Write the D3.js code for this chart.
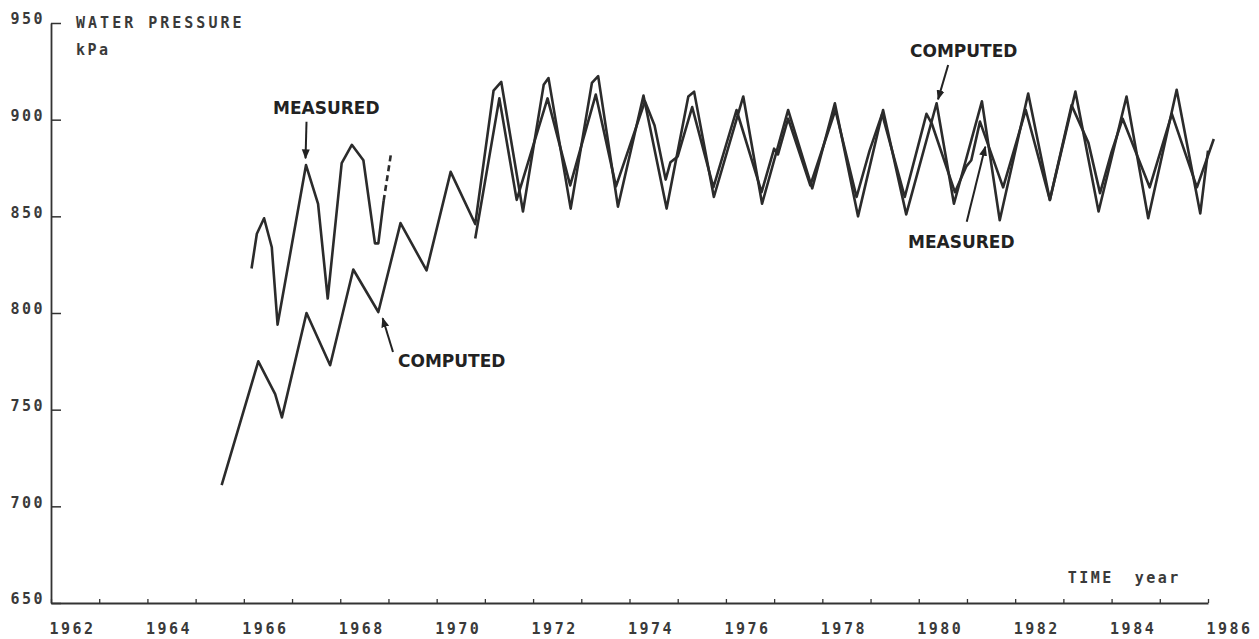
<!DOCTYPE html>
<html>
<head>
<meta charset="utf-8">
<script src="https://cdn.jsdelivr.net/npm/d3@7"></script>
<style>
  html, body { margin: 0; padding: 0; background: #fff; }
  svg { display: block; }
  .tick text, .lbl { font-family: "DejaVu Sans Mono", monospace; font-size: 15px; letter-spacing: 2.5px; fill: #3a3a3a; font-weight: bold; }
  .ann { font-family: "DejaVu Sans", sans-serif; font-weight: bold; font-size: 17px; fill: #222; }
</style>
</head>
<body>
<svg id="chart" width="1259" height="639"></svg>
<script>
// ---------------- data (year, kPa) ----------------
const computed = [
  [1965.54,711],[1966.30,775],[1966.65,758],[1966.79,746],[1967.30,800],[1967.79,773],
  [1968.27,822.5],[1968.79,800.5],[1969.25,846.5],[1969.79,822],[1970.29,873],[1970.80,846],
  [1971.18,915],[1971.34,919.5],[1971.79,852.5],
  [1972.22,918],[1972.32,921.5],[1972.78,854],
  [1973.22,919],[1973.35,922.5],[1973.76,855],
  [1974.29,912.5],[1974.77,854],
  [1975.22,912],[1975.34,914.5],[1975.75,860],
  [1976.36,912],[1976.75,856.5],
  [1977.29,905],[1977.79,864.5],
  [1978.26,908.5],[1978.74,850],
  [1979.26,905],[1979.74,851],
  [1980.37,908.5],[1980.73,856.5],
  [1981.31,909.5],[1981.68,848],
  [1982.27,913.5],[1982.72,858.5],
  [1983.25,914.5],[1983.73,852.5],
  [1984.31,912],[1984.76,849],
  [1985.35,915.5],[1985.84,851.5],[1986.00,884]
];
const measuredEarly = [
  [1966.16,823],[1966.27,841],[1966.42,849],[1966.58,834],[1966.70,794],
  [1967.29,876.5],[1967.54,856.5],[1967.74,807.5],[1968.03,877.5],[1968.24,887],
  [1968.48,879],[1968.72,836],[1968.79,836],[1968.90,858]
];
const measuredEarlyDashed = [[1968.90,858],[1969.05,882]];
const measured = [
  [1970.80,838.5],[1971.30,911],[1971.66,858.5],
  [1972.30,911],[1972.77,866],
  [1973.30,913],[1973.72,865.5],
  [1974.32,909.5],[1974.52,897],[1974.75,869],[1974.85,878],[1975.00,881],
  [1975.30,906.5],[1975.74,865],
  [1976.22,905],[1976.74,862.5],
  [1977.00,885],[1977.08,882],[1977.29,900.5],[1977.75,866],
  [1978.27,905],[1978.71,860],[1978.98,884],
  [1979.24,903],[1979.71,860],
  [1980.16,903],[1980.27,898],[1980.75,862.5],[1980.99,876],[1981.09,879],
  [1981.27,899],[1981.75,865],
  [1982.22,905],[1982.72,858.5],
  [1983.17,907.5],[1983.52,888],[1983.76,862],[1983.99,882.5],
  [1984.23,900.5],[1984.79,865],
  [1985.25,903],[1985.77,865],[1986.12,890]
];
const yTicks = [650,700,750,800,850,900,950];
const xTicks = d3.range(1962,1987,1);
const xLabelYears = d3.range(1962,1987,2);

// annotations: [text, textYear, textValue, arrowFrom[yr,v], arrowTo[yr,v]]
const annotations = [
  ["MEASURED", 1966.605, 902.9, [1967.30,898.9], [1967.28,880.0]],
  ["COMPUTED", 1969.198, 772.1, [1969.094,779.8], [1968.88,797.3]],
  ["COMPUTED", 1979.818, 932.4, [1980.61,928.3], [1980.40,910.5]],
  ["MEASURED", 1979.777, 833.6, [1980.995,847.2], [1981.38,886.0]]
];

// ---------------- drawing ----------------
const svg = d3.select("#chart");
const x = d3.scaleLinear().domain([1962,1986]).range([51,1208]);
const y = d3.scaleLinear().domain([650,950]).range([603,23]);

// y axis
const ya = svg.append("g").attr("transform", `translate(${x(1962)},0)`)
  .call(d3.axisLeft(y).tickValues(yTicks).tickSize(-10).tickSizeOuter(0).tickPadding(6).tickFormat(d3.format("d")));
ya.select(".domain").attr("stroke","#333").attr("stroke-width",1.8);
ya.selectAll(".tick line").attr("stroke","#333").attr("stroke-width",1.5);
ya.selectAll(".tick text").attr("dy","0.05em");

// x axis
const xa = svg.append("g").attr("transform", `translate(0,${y(650)})`)
  .call(d3.axisBottom(x).tickValues(xTicks).tickSize(-4).tickSizeOuter(0).tickPadding(20)
    .tickFormat(d => xLabelYears.includes(d) ? String(d) : ""));
xa.select(".domain").attr("stroke","#333").attr("stroke-width",1.8);
xa.selectAll(".tick line").attr("stroke","#333").attr("stroke-width",1.3);
xa.selectAll(".tick text").attr("text-anchor","start").attr("dx","-2");

// axis titles
svg.append("text").attr("class","lbl").attr("x", x(1962.52)).attr("y", y(950)+5).style("letter-spacing","3px").text("WATER PRESSURE");
svg.append("text").attr("class","lbl").attr("x", x(1962.52)).attr("y", y(950)+32).text("kPa");
svg.append("text").attr("class","lbl").attr("x", x(1983.09)).attr("y", y(650)-20).text("TIME");
svg.append("text").attr("class","lbl").attr("x", x(1984.48)).attr("y", y(650)-20).text("year");

// lines
const line = d3.line().x(d => x(d[0])).y(d => y(d[1]));
const drawLine = (data, dash) => svg.append("path").datum(data)
  .attr("fill","none").attr("stroke","#2b2b2b").attr("stroke-width",2.6)
  .attr("stroke-linejoin","round").attr("stroke-dasharray", dash || null).attr("d", line);
drawLine(computed);
drawLine(measuredEarly);
drawLine(measuredEarlyDashed, "6,4");
drawLine(measured);

// annotations
svg.append("defs").append("marker").attr("id","arr").attr("viewBox","0 0 10 10")
  .attr("refX",9).attr("refY",5).attr("markerWidth",5).attr("markerHeight",6).attr("orient","auto")
  .append("path").attr("d","M0,1 L10,5 L0,9 Z").attr("fill","#222");
annotations.forEach(a => {
  svg.append("text").attr("class","ann").attr("x", x(a[1])).attr("y", y(a[2])).text(a[0]);
  svg.append("line").attr("x1", x(a[3][0])).attr("y1", y(a[3][1])).attr("x2", x(a[4][0])).attr("y2", y(a[4][1]))
    .attr("stroke","#222").attr("stroke-width",2).attr("marker-end","url(#arr)");
});
</script>
</body>
</html>
